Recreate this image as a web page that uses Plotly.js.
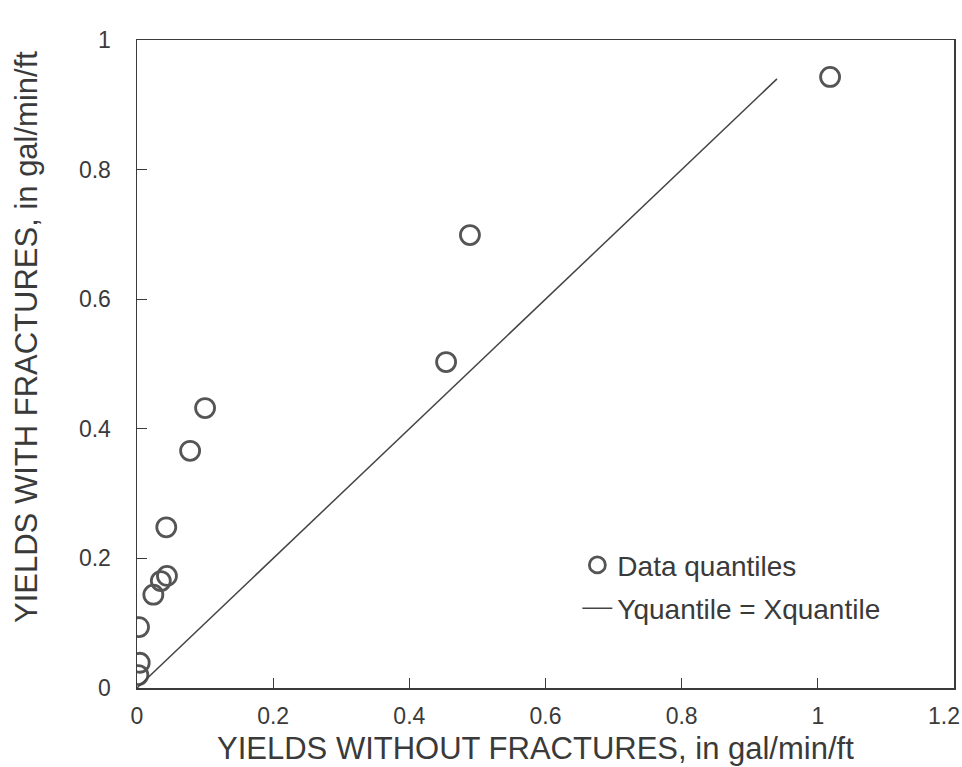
<!DOCTYPE html>
<html>
<head>
<meta charset="utf-8">
<script src="https://cdn.plot.ly/plotly-3.0.1.min.js"></script>
<style>html,body{margin:0;padding:0;background:#fff;}#chart{width:962px;height:767px;}</style>
</head>
<body>
<div id="chart"></div>
<script>
// Data quantiles (yields without fractures vs. with fractures, gal/min/ft)
const xQuantiles = [0.002, 0.004, 0.003, 0.024, 0.035, 0.044, 0.043, 0.078, 0.100, 0.454, 0.489, 1.018];
const yQuantiles = [0.020, 0.039, 0.094, 0.144, 0.165, 0.173, 0.248, 0.366, 0.432, 0.503, 0.699, 0.943];
// Reference line Yquantile = Xquantile
const lineX = [0, 0.94];
const lineY = [0, 0.94];
const xTickVals = [0, 0.2, 0.4, 0.6, 0.8, 1];
const xTickText = ["0", "0.2", "0.4", "0.6", "0.8", "1"];
const xEdgeTickVals = [1.2];
const xEdgeTickText = ["1.2"];
const yTickVals = [0, 0.2, 0.4, 0.6, 0.8, 1];
const yTickText = ["0", "0.2", "0.4", "0.6", "0.8", "1"];
const xTitle = "YIELDS WITHOUT FRACTURES, in gal/min/ft";
const yTitle = "YIELDS WITH FRACTURES, in gal/min/ft";

const ink = "#3a3a3a";
const font = "Liberation Sans, Arial, Helvetica, sans-serif";

const traces = [
  {
    x: xQuantiles, y: yQuantiles, mode: "markers", type: "scatter",
    name: "Data quantiles", legendgroup: "a",
    marker: {symbol: "circle-open", size: 19, line: {width: 2.8, color: "#555"}, color: "#555"}
  },
  {
    x: lineX, y: lineY, mode: "lines", type: "scatter", xaxis: "x2",
    name: "Yquantile = Xquantile", legendgroup: "b",
    line: {color: "#444", width: 1.5}
  }
];

const tickFont = {size: 23, family: font, color: ink};

const layout = {
  width: 962, height: 767,
  margin: {l: 137, r: 8, t: 40, b: 79},
  paper_bgcolor: "#ffffff", plot_bgcolor: "#ffffff",
  font: {family: font, color: ink},
  showlegend: true,
  legend: {
    x: 0.539, y: 0.228, xanchor: "left", yanchor: "top",
    font: {size: 28, family: font, color: ink},
    bgcolor: "rgba(0,0,0,0)", itemwidth: 30, tracegroupgap: 4
  },
  xaxis: {
    range: [0, 1.2], tickvals: xTickVals, ticktext: xTickText,
    ticks: "inside", ticklen: 10, tickwidth: 1.3, tickcolor: ink,
    showline: true, linecolor: ink, linewidth: 1.5, mirror: true,
    showgrid: false, zeroline: false,
    ticklabelstandoff: 7,
    tickfont: tickFont
  },
  xaxis2: {
    overlaying: "x", side: "bottom", anchor: "y",
    range: [0, 1.2], tickvals: xEdgeTickVals, ticktext: xEdgeTickText,
    ticks: "", showline: false, showgrid: false, zeroline: false,
    ticklabelposition: "outside left", ticklabelshift: 6, ticklabelstandoff: 12,
    tickfont: tickFont
  },
  yaxis: {
    range: [0, 1], tickvals: yTickVals, ticktext: yTickText,
    ticks: "inside", ticklen: 10, tickwidth: 1.3, tickcolor: ink,
    showline: true, linecolor: ink, linewidth: 1.5, mirror: true,
    showgrid: false, zeroline: false,
    ticklabelstandoff: 20,
    tickfont: tickFont
  },
  annotations: [
    {text: xTitle, xref: "paper", yref: "paper", x: 0.488, y: 0, xanchor: "center", yanchor: "middle",
     yshift: -60, showarrow: false, font: {size: 31, family: font, color: ink}},
    {text: yTitle, xref: "paper", yref: "paper", x: 0, y: 0.5417, xanchor: "center", yanchor: "middle",
     xshift: -110, textangle: -90, showarrow: false, font: {size: 31, family: font, color: ink}}
  ]
};

Plotly.newPlot("chart", traces, layout, {displayModeBar: false, staticPlot: true});
</script>
</body>
</html>
